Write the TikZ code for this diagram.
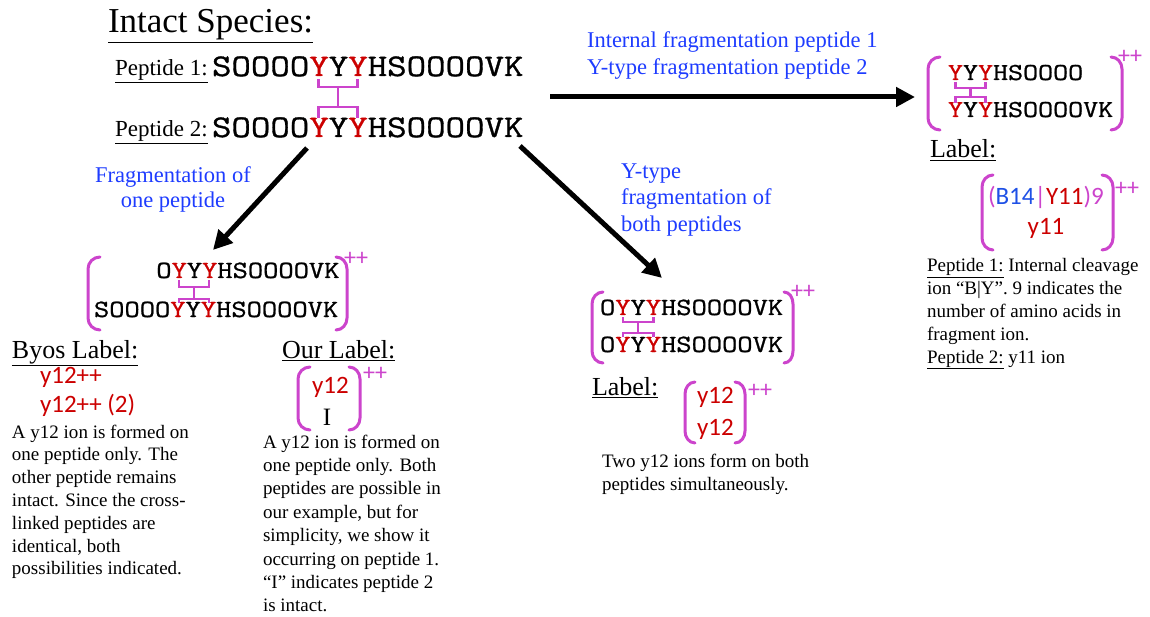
\documentclass[tikz,border=0pt]{standalone}
\usepackage{fontspec}
\setmainfont{Liberation Serif}
\newfontfamily\seqfont[FakeStretch=1.2,FakeBold=1]{Latin Modern Mono}
\newfontfamily\labfont{Carlito}
\usetikzlibrary{arrows.meta}
\definecolor{xmag}{RGB}{204,68,204}
\definecolor{yred}{RGB}{204,0,0}
\definecolor{fblue}{RGB}{30,60,255}
\definecolor{bluelab}{RGB}{30,80,230}
\newcommand\RY{\textcolor{yred}{Y}}
\newcommand\fs[2]{\fontsize{#1}{#2}\selectfont}
% crosslink: xL xR yStart yH1 yH2 yEnd
\newcommand\xlink[6]{%
  \draw[xl] (#1,#3) -- (#1,#4) -- (#2,#4) -- (#2,#3);
  \draw[xl] ({(#1+#2)/2},#4) -- ({(#1+#2)/2},#5);
  \draw[xl] (#1,#6) -- (#1,#5) -- (#2,#5) -- (#2,#6);}
% left bracket: xOuter xInner yTop yBot
\newcommand\lbr[4]{\draw[brk] (#2,#3) to[out=180,in=90] (#1,{#3+12}) -- (#1,{#4-12}) to[out=-90,in=180] (#2,#4);}
\newcommand\rbr[4]{\draw[brk] (#2,#3) to[out=0,in=90] (#1,{#3+12}) -- (#1,{#4-12}) to[out=-90,in=0] (#2,#4);}
\begin{document}
\begin{tikzpicture}[x=1pt,y=-1pt,
  every node/.style={inner sep=0pt, outer sep=0pt},
  seqbig/.style={anchor=base west, font=\seqfont\fs{31.5}{36}},
  seqsm/.style={anchor=base west, font=\seqfont\fs{24.7}{30}},
  xl/.style={draw=xmag, line width=2.6pt},
  brk/.style={draw=xmag, line width=3pt, line cap=round},
  bigarrow/.style={line width=5pt, -{Triangle[length=19pt,width=19pt]}},
  bluetxt/.style={text=fblue, font=\fs{22.5}{26}},
  hdr/.style={anchor=base west, font=\fs{26}{30}},
  redlab/.style={anchor=base west, text=yred, font=\labfont\fs{25}{30}},
  plus/.style={anchor=base west, text=xmag, font=\labfont\fs{24}{26}},
  body/.style={anchor=base west, font=\fs{19}{23}}]
\fill[white] (0,0) rectangle (1150,617);
\useasboundingbox (0,0) rectangle (1150,617);

% intact species
\node[anchor=base west, font=\fs{35}{40}] (title) at (108,33) {\underline{Intact Species:}};
\node[anchor=base west, font=\fs{23}{26}] (p1lab) at (115,76) {\underline{Peptide 1:}};
\node[seqbig] (p1) at (212,76) {SOOOO\RY Y\RY HSOOOOVK};
\node[anchor=base west, font=\fs{23}{26}] (p2lab) at (115,137) {\underline{Peptide 2:}};
\node[seqbig] (p2) at (212,137) {SOOOO\RY Y\RY HSOOOOVK};
\xlink{318.7}{357.5}{79}{87}{107}{118}

% arrows
\coordinate (aH0) at (550,97);
\coordinate (aH1) at (915,97);
\coordinate (aL0) at (307,148);
\coordinate (aL1) at (213,250);
\coordinate (aR0) at (520,146);
\coordinate (aR1) at (662,278);
\draw[bigarrow] (aH0) -- (aH1);
\draw[bigarrow] (aL0) -- (aL1);
\draw[bigarrow] (aR0) -- (aR1);

% blue labels
\node[bluetxt, anchor=base west] (bl1) at (587,48) {Internal fragmentation peptide 1};
\node[bluetxt, anchor=base west] (bl2) at (587,75) {Y-type fragmentation peptide 2};
\node[bluetxt, anchor=base] (bl3) at (173,183) {Fragmentation of};
\node[bluetxt, anchor=base] (bl4) at (173,208) {one peptide};
\node[bluetxt, anchor=base west] (bl5) at (621,179) {Y-type};
\node[bluetxt, anchor=base west] (bl6) at (621,205) {fragmentation of};
\node[bluetxt, anchor=base west] (bl7) at (621,232) {both peptides};

% left fragment
\node[seqsm, anchor=base east] (f1a) at (339.5,278) {O\RY Y\RY HSOOOOVK};
\node[seqsm] (f1b) at (94,317) {SOOOO\RY Y\RY HSOOOOVK};
\xlink{179}{209}{280}{287}{299}{303}
\lbr{88}{100}{257}{330}
\rbr{347}{336}{257}{330}
\node[plus] (f1pp) at (344,266) {++};

\node[hdr] (byos) at (12,358) {\underline{Byos Label:}};
\node[redlab] (byos1) at (40,383) {y12++};
\node[redlab] (byos2) at (40,412) {y12++ (2)};
\foreach \t [count=\i from 0] in {A y12 ion is formed on, one peptide only. The, other peptide remains, intact. Since the cross-, linked peptides are, {identical, both}, possibilities indicated.}
  \node[body] (byt\i) at (12,{438+22.8*\i}) {\t};

\node[hdr] (our) at (282,358) {\underline{Our Label:}};
\lbr{298}{310}{367}{430}
\rbr{360}{349}{367}{430}
\node[redlab] (our1) at (312,393) {y12};
\node[anchor=base, font=\fs{25}{30}] (our2) at (327,425) {I};
\node[plus] (ourpp) at (363,380) {++};
\foreach \t [count=\i from 0] in {A y12 ion is formed on, one peptide only. Both, peptides are possible in, {our example, but for}, {simplicity, we show it}, occurring on peptide 1., “I” indicates peptide 2, is intact.}
  \node[body] (ourt\i) at (263,{448+23.4*\i}) {\t};

% middle fragment
\node[seqsm] (f2a) at (600,315) {O\RY Y\RY HSOOOOVK};
\node[seqsm] (f2b) at (600,352) {O\RY Y\RY HSOOOOVK};
\xlink{623}{653.3}{317}{322}{333}{337}
\lbr{592}{603}{292}{363}
\rbr{793}{784}{292}{363}
\node[plus] (f2pp) at (791,299) {++};
\node[hdr] (mlab) at (592,395) {\underline{Label:}};
\lbr{685}{695}{382}{443}
\rbr{745}{735}{382}{443}
\node[redlab] (m1) at (697,403) {y12};
\node[redlab] (m2) at (697,435) {y12};
\node[plus] (mpp) at (748,397) {++};
\node[body] (mt0) at (602,467) {Two y12 ions form on both};
\node[body] (mt1) at (602,490) {peptides simultaneously.};

% right fragment
\node[seqsm, font=\seqfont\fs{24.3}{30}] (f3a) at (948,80) {\RY Y\RY HSOOOO};
\node[seqsm, font=\seqfont\fs{24.3}{30}] (f3b) at (948,117) {\RY Y\RY HSOOOOVK};
\xlink{955.5}{985.5}{82}{88}{97}{103}
\lbr{928}{940}{57}{130}
\rbr{1122}{1111}{57}{130}
\node[plus] (f3pp) at (1118,64) {++};
\node[hdr] (rlab) at (930,158) {\underline{Label:}};
\lbr{982}{993}{175}{250}
\rbr{1113}{1102}{175}{250}
\node[anchor=base west, font=\labfont\fs{25}{30}] (r1) at (988,205) {\textcolor{xmag}{(}\textcolor{bluelab}{B14}\textcolor{xmag}{|}\textcolor{yred}{Y11}\textcolor{xmag}{)9}};
\node[redlab, anchor=base] (r2) at (1046,235) {y11};
\node[plus] (rpp) at (1115,196) {++};
\foreach \t [count=\i from 0] in {\underline{Peptide 1:} Internal cleavage, ion “B|Y”. 9 indicates the, number of amino acids in, fragment ion., \underline{Peptide 2:} y11 ion}
  \node[body] (rt\i) at (927,{272+22.75*\i}) {\t};
\end{tikzpicture}
\end{document}
